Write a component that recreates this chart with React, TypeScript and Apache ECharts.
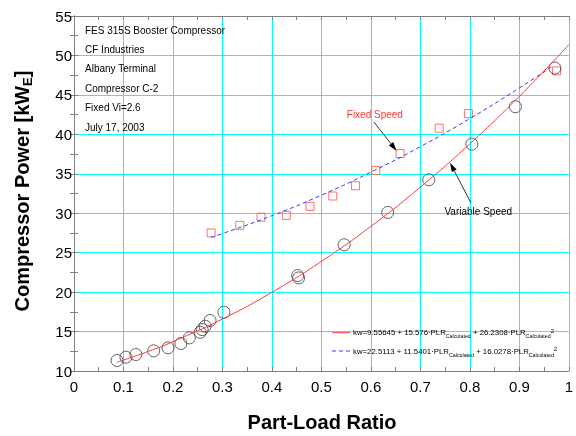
import React, { useEffect, useRef } from 'react';
import * as echarts from 'echarts';

// Variable speed measurements (open circles)
const variablePLR = [0.087, 0.105, 0.125, 0.161, 0.19, 0.216, 0.233, 0.255, 0.259, 0.265, 0.275, 0.303, 0.452, 0.454, 0.546, 0.634, 0.717, 0.804, 0.892, 0.972];
const variableKW = [11.33, 11.75, 12.09, 12.55, 12.93, 13.48, 14.2, 14.9, 15.25, 15.67, 16.4, 17.45, 22.1, 21.8, 26.0, 30.1, 34.24, 38.76, 43.5, 48.4];

// Fixed speed measurements (open squares)
const fixedPLR = [0.277, 0.335, 0.378, 0.429, 0.477, 0.523, 0.569, 0.61, 0.659, 0.738, 0.797, 0.975];
const fixedKW = [27.5, 28.46, 29.5, 29.72, 30.86, 32.18, 33.48, 35.42, 37.57, 40.78, 42.63, 48.04];

// Fitted curves
const variableFitPLR = [0.087, 0.15, 0.2, 0.3, 0.4, 0.5, 0.6, 0.7, 0.8, 0.9, 1.0];
const variableFitKW = [11.11, 12.48, 13.72, 16.59, 19.98, 23.9, 28.34, 33.31, 38.8, 44.82, 51.36];
const fixedFitPLR = [0.277, 0.3, 0.4, 0.5, 0.6, 0.7, 0.8, 0.9, 0.965];
const fixedFitKW = [26.94, 27.42, 29.69, 32.29, 35.21, 38.44, 42.0, 45.88, 48.57];

const infoLines = ['FES 315S Booster Compressor', 'CF Industries', 'Albany Terminal', 'Compressor C-2', 'Fixed Vi=2.6', 'July 17, 2003'];

const legendEquations = [
  ['kw=9.55645 + 15.576·PLR', ' + 26.2308·PLR'],
  ['kw=22.5113 + 11.5401·PLR', ' + 16.0278·PLR'],
];

const annotationText = ['Fixed Speed', 'Variable Speed'];
const annotationTextPos = [[0.608, 42.56], [0.817, 30.23]];
const arrowFrom = [[0.606, 41.58], [0.802, 31.33]];
const arrowTo = [[0.652, 37.9], [0.76, 36.4]];

const X_MIN = 0, X_MAX = 1, X_INT = 0.1;
const Y_MIN = 10, Y_MAX = 55, Y_INT = 5;

export default function App() {
  const ref = useRef<HTMLDivElement>(null);
  useEffect(() => {
    const chart = echarts.init(ref.current!, null, { renderer: 'svg' });
    const font = '"Liberation Sans", Arial, sans-serif';
    const axisGray = '#808080';
    const gridCyan = '#00ffff';
    const red = '#ff3838';
    const blue = '#3a3aff';
    const zip = (a: number[], b: number[]) => a.map((v, i) => [v, b[i]]);

    const baseX = {
      type: 'value', min: X_MIN, max: X_MAX, interval: X_INT,
      axisLine: { lineStyle: { color: axisGray, width: 1 } },
      axisTick: { show: true, inside: true, length: 4, lineStyle: { color: axisGray } },
      minorTick: { show: true, splitNumber: 2, length: 4, lineStyle: { color: axisGray } },
    };
    const baseY = {
      type: 'value', min: Y_MIN, max: Y_MAX, interval: Y_INT,
      axisLine: { lineStyle: { color: axisGray, width: 1 } },
      axisTick: { show: true, inside: true, length: 4, lineStyle: { color: axisGray } },
      minorTick: { show: true, splitNumber: 2, length: 4, lineStyle: { color: axisGray } },
    };

    chart.setOption({
      animation: false,
      grid: { left: 74, right: 2, top: 16, bottom: 65, containLabel: false },
      xAxis: [
        {
          ...baseX, position: 'bottom',
          axisLabel: { color: '#000', fontSize: 15, fontFamily: font, margin: 8 },
          splitLine: { show: true, lineStyle: { color: gridCyan, width: 1 } },
        },
        {
          ...baseX, position: 'top',
          axisLabel: { show: false }, splitLine: { show: false },
        },
      ],
      yAxis: [
        {
          ...baseY, position: 'left',
          axisLabel: { color: '#000', fontSize: 15, fontFamily: font, margin: 2 },
          splitLine: { show: true, lineStyle: { color: gridCyan, width: 1 } },
        },
        {
          ...baseY, position: 'right',
          axisLabel: { show: false }, splitLine: { show: false },
        },
      ],
      series: [
        {
          type: 'scatter', name: 'Fixed Speed', data: zip(fixedPLR, fixedKW),
          symbol: 'rect', symbolSize: 8,
          itemStyle: { color: 'rgba(0,0,0,0)', borderColor: '#ff4d4d', borderWidth: 1 },
        },
        {
          type: 'line', name: 'fixedFit', data: zip(fixedFitPLR, fixedFitKW),
          smooth: true, showSymbol: false, symbol: 'none',
          lineStyle: { color: blue, width: 1, type: [4, 3] },
        },
        {
          type: 'scatter', name: 'Variable Speed', data: zip(variablePLR, variableKW),
          symbol: 'circle', symbolSize: 12,
          itemStyle: { color: 'rgba(0,0,0,0)', borderColor: '#3a3a3a', borderWidth: 1 },
        },
        {
          type: 'line', name: 'variableFit', data: zip(variableFitPLR, variableFitKW),
          smooth: true, showSymbol: false, symbol: 'none',
          lineStyle: { color: red, width: 1 },
        },
      ],
    });

    const px = (p: number[]) => chart.convertToPixel({ gridIndex: 0 }, p) as number[];
    const graphics: any[] = [];

    // Axis titles
    graphics.push({
      type: 'text', x: 322, y: 422,
      style: {
        text: 'Part-Load Ratio', fill: '#000', font: `bold 20px ${font}`,
        align: 'center', verticalAlign: 'middle',
      },
    });
    graphics.push({
      type: 'text', x: 22, y: 191, rotation: Math.PI / 2,
      style: {
        text: '{t|Compressor Power [kW}{s|E}{t|]}',
        align: 'center', verticalAlign: 'middle',
        rich: {
          t: { fontSize: 20, fontWeight: 'bold', fontFamily: font, fill: '#000', lineHeight: 24 },
          s: { fontSize: 13, fontWeight: 'bold', fontFamily: font, fill: '#000', verticalAlign: 'bottom' },
        },
      },
    });

    // Info text block
    infoLines.forEach((t, i) => {
      graphics.push({
        type: 'text', x: 85, y: 30 + i * 19.4,
        style: { text: t, fill: '#000', font: `10px ${font}`, align: 'left', verticalAlign: 'middle' },
      });
    });

    // Legend of the fitted equations
    const legendColors = [red, blue];
    const legendDash: any[] = [null, [4, 3]];
    legendEquations.forEach((eq, i) => {
      const y = 332.7 + i * 18.3;
      graphics.push({
        type: 'line', shape: { x1: 332, y1: y, x2: 350, y2: y },
        style: { stroke: legendColors[i], lineWidth: 1, lineDash: legendDash[i] },
      });
      graphics.push({
        type: 'text', x: 353, y,
        style: {
          text: `{m|${eq[0]}}{s|Calculated}{m|${eq[1]}}{s|Calculated}{p|2}`,
          align: 'left', verticalAlign: 'middle',
          rich: {
            m: { fontSize: 7.8, fontFamily: font, fill: '#000', lineHeight: 12 },
            s: { fontSize: 5.3, fontFamily: font, fill: '#000', verticalAlign: 'bottom' },
            p: { fontSize: 6, fontFamily: font, fill: '#000', verticalAlign: 'top', padding: [1, 0, 0, 0] },
          },
        },
      });
    });

    // Annotations with arrows
    const annColors = ['#ff3838', '#000'];
    annotationText.forEach((t, i) => {
      const tp = px(annotationTextPos[i]);
      graphics.push({
        type: 'text', x: tp[0], y: tp[1],
        style: { text: t, fill: annColors[i], font: `10px ${font}`, align: 'center', verticalAlign: 'middle' },
      });
      const a = px(arrowFrom[i]);
      const b = px(arrowTo[i]);
      const dx = b[0] - a[0], dy = b[1] - a[1];
      const L = Math.hypot(dx, dy);
      const ux = dx / L, uy = dy / L;
      const hl = 9, hw = 2.8;
      const bx = b[0] - ux * hl, by = b[1] - uy * hl;
      graphics.push({
        type: 'line', shape: { x1: a[0], y1: a[1], x2: bx, y2: by },
        style: { stroke: '#333', lineWidth: 1 },
      });
      graphics.push({
        type: 'polygon',
        shape: { points: [[b[0], b[1]], [bx - uy * hw, by + ux * hw], [bx + uy * hw, by - ux * hw]] },
        style: { fill: '#000' },
      });
    });

    chart.setOption({ graphic: graphics });

    return () => chart.dispose();
  }, []);
  return <div ref={ref} style={{ position: 'fixed', left: 0, top: 0, width: 576, height: 436 }} />;
}
